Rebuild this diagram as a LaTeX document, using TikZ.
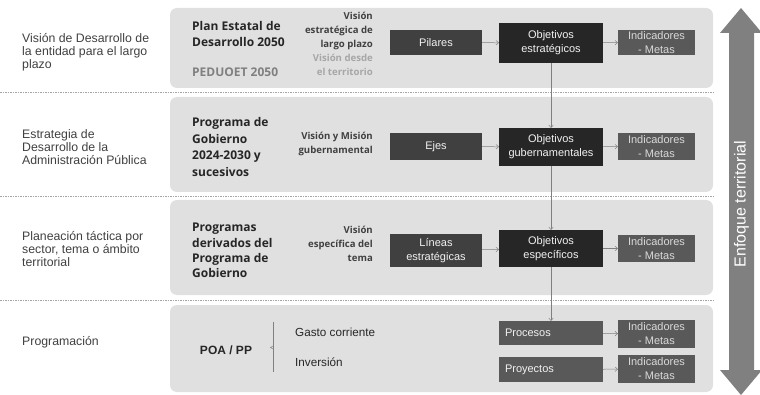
\documentclass[tikz,border=0pt]{standalone}
\usepackage{fontspec}
\setmainfont{Liberation Sans}
\newfontfamily\osans{Open Sans}
\usetikzlibrary{arrows.meta}
\definecolor{panel}{HTML}{E0E0E0}
\definecolor{boxA}{HTML}{404040}
\definecolor{boxB}{HTML}{262626}
\definecolor{boxC}{HTML}{595959}
\definecolor{txtL}{HTML}{404040}
\definecolor{txtT}{HTML}{262626}
\definecolor{sep}{HTML}{A6A6A6}
\definecolor{arr}{HTML}{808080}
\tikzset{
  x=1pt,y=-1pt,
  panelbox/.style={fill=panel,draw=none,rounded corners=7pt},
  sepline/.style={draw=sep,line width=0.6pt,dash pattern=on 1.5pt off 1pt},
  lefttxt/.style={anchor=west,inner sep=0pt,align=left,text=txtL,font=\fontsize{12.3}{12.8}\selectfont},
  titletxt/.style={anchor=west,inner sep=0pt,align=left,text=txtT,font=\osans\bfseries\fontsize{12}{16.5}\selectfont},
  smalltxt/.style={anchor=east,inner sep=0pt,align=right,text=txtL,font=\osans\bfseries\fontsize{9.6}{13.8}\selectfont},
  bx/.style={draw=none,inner sep=0pt,align=center,text=white!95!black,font=\fontsize{11}{14}\selectfont},
  pil/.style={bx,fill=boxA,minimum width=92pt},
  obj/.style={bx,fill=boxB,minimum width=104pt},
  ind/.style={bx,fill=boxC,minimum width=77pt,text=white!85!black},
  proc/.style={bx,fill=boxC,text width=92pt,inner xsep=6pt,align=left},
  conn/.style={draw=arr,line width=0.5pt,-{To[length=3pt,width=5pt]}},
  plaintxt/.style={anchor=west,inner sep=0pt,text=txtT,font=\fontsize{11.7}{14}\selectfont}
}
\begin{document}
\begin{tikzpicture}
\useasboundingbox (0,0) rectangle (760,395);
% panels
\fill[panelbox] (170,8) rectangle (713,88);
\fill[panelbox] (170,97) rectangle (713,192);
\fill[panelbox] (170,200) rectangle (713,295);
\fill[panelbox] (170,305) rectangle (713,392);
% separators
\draw[sepline] (0,92.5) -- (713,92.5);
\draw[sepline] (0,196.5) -- (713,196.5);
\draw[sepline] (0,300.5) -- (713,300.5);
% left labels
\node[lefttxt] (l1) at (22,52) {Visión de Desarrollo de\\la entidad para el largo\\plazo};
\node[lefttxt] (l2) at (22,147) {Estrategia de\\Desarrollo de la\\Administración Pública};
\node[lefttxt] (l3) at (22,249) {Planeación táctica por\\sector, tema o ámbito\\territorial};
\node[lefttxt] (l4) at (22,342.5) {Programación};
% titles
\node[titletxt] (t1) at (192,34) {Plan Estatal de\\Desarrollo 2050};
\node[titletxt,text=arr] (t1b) at (192,72) {PEDUOET 2050};
\node[titletxt] (t2) at (192,147) {Programa de\\Gobierno\\2024-2030 y\\sucesivos};
\node[titletxt,font=\osans\bfseries\fontsize{12}{15.2}\selectfont] (t3) at (192,250.5) {Programas\\derivados del\\Programa de\\Gobierno};
\node[anchor=center,inner sep=0pt,text=txtT,font=\bfseries\fontsize{12}{14}\selectfont] (t4) at (226,350) {POA / PP};
% small right-aligned texts
\node[smalltxt] (s1) at (373,31) {Visión\\estratégica de\\largo plazo};
\node[smalltxt,text=sep] (s1b) at (373,64.5) {Visión desde\\el territorio};
\node[smalltxt] (s2) at (373,144) {Visión y Misión\\gubernamental};
\node[smalltxt] (s3) at (373,244) {Visión\\específica del\\tema};
% programación
\draw[draw=arr,line width=0.5pt] (273,322) -- (273,372);
\draw[draw=arr,line width=0.5pt] (273,346) -- (270.5,347.5) -- (273,349);
\node[plaintxt] (g1) at (295,332) {Gasto corriente};
\node[plaintxt] (g2) at (295,362) {Inversión};
% boxes row 1
\node[pil,minimum height=25pt] (pil) at (436,42.5) {Pilares};
\node[obj,minimum height=40pt] (oe) at (551,43) {Objetivos\\estratégicos};
\node[ind,minimum height=25pt] (i1) at (656.5,42.5) {Indicadores\\- Metas};
% row 2
\node[pil,minimum height=27pt] (ejes) at (436,146.5) {Ejes};
\node[obj,minimum height=38pt] (og) at (551,147) {Objetivos\\gubernamentales};
\node[ind,minimum height=27pt] (i2) at (656.5,146.5) {Indicadores\\- Metas};
% row 3
\node[pil,minimum height=33pt] (lin) at (436,250.5) {Líneas\\estratégicas};
\node[obj,minimum height=37pt] (os) at (551,248.5) {Objetivos\\específicos};
\node[ind,minimum height=27pt] (i3) at (656.5,248.5) {Indicadores\\- Metas};
% row 4
\node[proc,minimum height=24pt] (proc) at (551,333) {Procesos};
\node[ind,minimum height=28pt] (i4) at (656.5,334) {Indicadores\\- Metas};
\node[proc,minimum height=25pt] (proy) at (551,369.5) {Proyectos};
\node[ind,minimum height=28pt] (i5) at (656.5,369) {Indicadores\\- Metas};
% connectors
\draw[conn] (pil) -- (oe);
\draw[conn] (oe) -- (i1);
\draw[conn] (ejes) -- (og);
\draw[conn] (og) -- (i2);
\draw[conn] (lin) -- (os);
\draw[conn] (os) -- (i3);
\draw[conn] (proc) -- (i4);
\draw[conn] (proy) -- (i5);
\draw[conn] (oe) -- (og);
\draw[conn] (og) -- (os);
\draw[conn] (os) -- (proc);
% double arrow
\fill[arr] (741,8) -- (762,33) -- (754,33) -- (754,370) -- (762,370) -- (741,395)
  -- (720,370) -- (729,370) -- (729,33) -- (720,33) -- cycle;
\node[rotate=90,inner sep=0pt,text=white,font=\fontsize{16}{18}\selectfont] (enf) at (741.5,204) {Enfoque territorial};
\end{tikzpicture}
\end{document}
